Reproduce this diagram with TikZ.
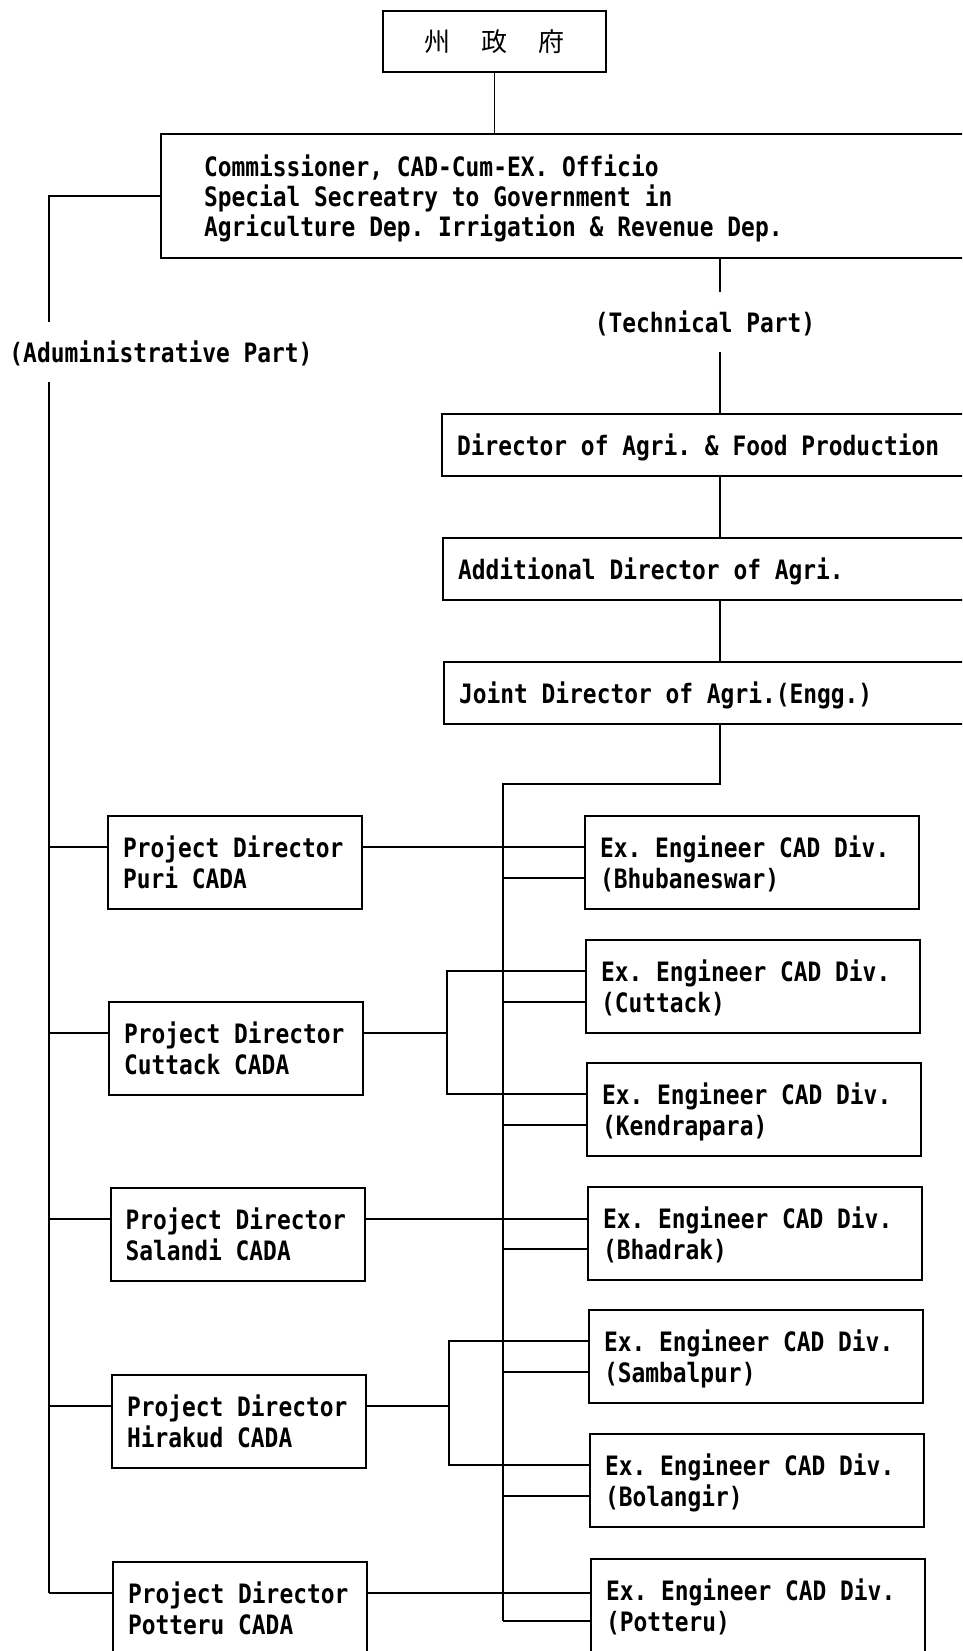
\documentclass[tikz,border=0pt]{standalone}
\usepackage{fontspec}
\setmonofont[FakeStretch=0.857]{DejaVu Sans Mono}
\newfontfamily\cjk{Noto Sans CJK JP}
\usetikzlibrary{calc}
% one character cell of the condensed mono font
\newcommand\ws{\hspace*{13.78pt}}
\begin{document}
\begin{tikzpicture}[x=1pt,y=-1pt,
  tfont/.style={font=\ttfamily\bfseries\fontsize{26.7}{31}\selectfont},
  orgbox/.style={draw, line width=2pt, rectangle, anchor=north west, align=left, tfont,
    inner xsep=15pt, inner ysep=4pt, text height=20pt},
  two/.style={orgbox, text depth=31pt, minimum height=93pt},
  one/.style={orgbox, text depth=0pt, minimum height=62pt},
  pdbox/.style={two, text width=224pt},
  eebox/.style={two, text width=304pt},
  cjkbox/.style={draw, line width=2pt, rectangle, minimum width=223pt, minimum height=61pt,
    font=\cjk\fontsize{26}{30}\selectfont, text height=23pt, text depth=3pt},
  lbl/.style={tfont, text height=20pt, text depth=0pt, inner xsep=0pt, inner ysep=20pt},
  conn/.style={line width=1.8pt}
]
\useasboundingbox (0,0) rectangle (962,1651);
\clip (0,0) rectangle (962,1651);

% top
\node[cjkbox] (gov) at (494.5,41.5) {州\hspace{31pt}政\hspace{31pt}府};
\node[orgbox, text width=734pt, inner xsep=43pt, minimum height=124pt,
  font=\ttfamily\bfseries\fontsize{26.7}{30}\selectfont, text depth=60pt] (com) at (160,133)
  {Commissioner,\ws CAD-Cum-EX.\ws Officio\\Special\ws Secreatry\ws to\ws Government\ws in\\Agriculture\ws Dep.\ws Irrigation\ws\&\ws Revenue\ws Dep.};

\node[lbl] (adm) at (161,352) {(Aduministrative\ws Part)};
\node[lbl] (tec) at (705,322) {(Technical\ws Part)};

% technical chain
\node[one, text width=509pt] (dir) at (441,413) {Director\ws of\ws Agri.\ws\&\ws Food\ws Production};
\node[one, text width=509pt] (add) at (442,537) {Additional\ws Director\ws of\ws Agri.};
\node[one, text width=509pt] (jnt) at (443,661) {Joint\ws Director\ws of\ws Agri.(Engg.)};

% project directors
\node[pdbox] (pd1) at (107,815)   {Project\ws Director\\Puri\ws CADA};
\node[pdbox] (pd2) at (108,1001)  {Project\ws Director\\Cuttack\ws CADA};
\node[pdbox] (pd3) at (109.5,1187){Project\ws Director\\Salandi\ws CADA};
\node[pdbox] (pd4) at (111,1374)  {Project\ws Director\\Hirakud\ws CADA};
\node[pdbox] (pd5) at (112,1561)  {Project\ws Director\\Potteru\ws CADA};

% executive engineers
\node[eebox] (ee1) at (584,815)  {Ex.\ws Engineer\ws CAD\ws Div.\\(Bhubaneswar)};
\node[eebox] (ee2) at (585,939)  {Ex.\ws Engineer\ws CAD\ws Div.\\(Cuttack)};
\node[eebox] (ee3) at (586,1062) {Ex.\ws Engineer\ws CAD\ws Div.\\(Kendrapara)};
\node[eebox] (ee4) at (587,1186) {Ex.\ws Engineer\ws CAD\ws Div.\\(Bhadrak)};
\node[eebox] (ee5) at (588,1309) {Ex.\ws Engineer\ws CAD\ws Div.\\(Sambalpur)};
\node[eebox] (ee6) at (589,1433) {Ex.\ws Engineer\ws CAD\ws Div.\\(Bolangir)};
\node[eebox] (ee7) at (590,1558) {Ex.\ws Engineer\ws CAD\ws Div.\\(Potteru)};

% helper coordinates
\coordinate (ax) at (49,0);
\coordinate (tx) at (720,0);
\coordinate (turn) at (503,784);
\coordinate (bx1) at (447,0);
\coordinate (bx2) at (449,0);
\foreach \i in {1,...,5} {
  \coordinate (pd\i a) at ([yshift=15.5pt]pd\i.west);
  \coordinate (pd\i b) at ([yshift=15.5pt]pd\i.east);
}
\foreach \i in {1,...,7} {
  \coordinate (ee\i a) at ([yshift=15.5pt]ee\i.west);
  \coordinate (ee\i b) at ([yshift=-15.5pt]ee\i.west);
}

% connectors
\draw[conn] (gov.south) -- (gov.south |- com.north);
\draw[conn] (com.west) -| (ax |- adm.north);
\draw[conn] (ax |- adm.south) -- (ax |- pd5a);
\foreach \i in {1,...,5} { \draw[conn] (ax |- pd\i a) -- (pd\i a); }

\draw[conn] (tx |- com.south) -- (tx |- tec.north);
\draw[conn] (tx |- tec.south) -- (tx |- dir.north);
\draw[conn] (tx |- dir.south) -- (tx |- add.north);
\draw[conn] (tx |- add.south) -- (tx |- jnt.north);
\draw[conn] (tx |- jnt.south) |- (turn) -- (turn |- ee7b);
\foreach \i in {1,...,7} { \draw[conn] (turn |- ee\i b) -- (ee\i b); }

\draw[conn] (pd1b) -- (pd1b -| ee1.west);
\draw[conn] (pd2b) -- (bx1 |- pd2b);
\draw[conn] (ee2a) -| (bx1 |- ee3a) -- (ee3a);
\draw[conn] (pd3b) -- (pd3b -| ee4.west);
\draw[conn] (pd4b) -- (bx2 |- pd4b);
\draw[conn] (ee5a) -| (bx2 |- ee6a) -- (ee6a);
\draw[conn] (pd5b) -- (pd5b -| ee7.west);
\end{tikzpicture}
\end{document}
